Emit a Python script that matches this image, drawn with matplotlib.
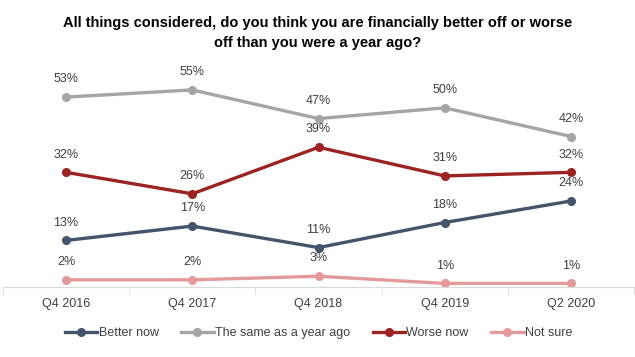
import matplotlib.pyplot as plt
import numpy as np

periods = ['Q4 2016', 'Q4 2017', 'Q4 2018', 'Q4 2019', 'Q2 2020']
better = [13, 17, 11, 18, 24]
same = [53, 55, 47, 50, 42]
worse = [32, 26, 39, 31, 32]
not_sure = [2, 2, 3, 1, 1]

series = [
    ('Better now', better, '#44546A'),
    ('The same as a year ago', same, '#A5A5A5'),
    ('Worse now', worse, '#9B2423'),
    ('Not sure', not_sure, '#E49A9A'),
]

plt.rcParams['font.family'] = ['Liberation Sans', 'DejaVu Sans']

fig = plt.figure(figsize=(6.35, 3.57), dpi=100)
ax = fig.add_axes([3/635, 1 - 287/357, 631/635, 215/357])

x = np.arange(len(periods))
for name, vals, col in series:
    ax.plot(x, vals, '-o', color=col, lw=2.4, ms=5.5, label=name)
    for xi, v in zip(x, vals):
        ax.annotate(f'{v}%', (xi, v), xytext=(0, 8.5), textcoords='offset points',
                    ha='center', va='bottom', fontsize=9, color='#404040')

ax.set_xlim(-0.5, len(periods) - 0.5)
ax.set_ylim(0, 60)
ax.set_xticks(x)
ax.set_xticklabels(periods, fontsize=9, color='#404040')
ax.set_xticks(np.arange(-0.5, len(periods), 1), minor=True)
ax.tick_params(axis='x', which='major', length=0, pad=8)
ax.tick_params(axis='x', which='minor', length=5, color='#D9D9D9')
ax.set_yticks([])
for s in ['top', 'left', 'right']:
    ax.spines[s].set_visible(False)
ax.spines['bottom'].set_color('#D9D9D9')

fig.suptitle('All things considered, do you think you are financially better off or worse\noff than you were a year ago?',
             fontsize=10.5, fontweight='bold', y=0.955, linespacing=1.55, color='#000000')

ax.legend(loc='center', bbox_to_anchor=(0.5, -0.215), ncol=4, frameon=False,
          fontsize=9, handlelength=2.6, columnspacing=1.8, handletextpad=0.1,
          labelcolor='#404040')

fig.savefig('out.png', dpi=100)
